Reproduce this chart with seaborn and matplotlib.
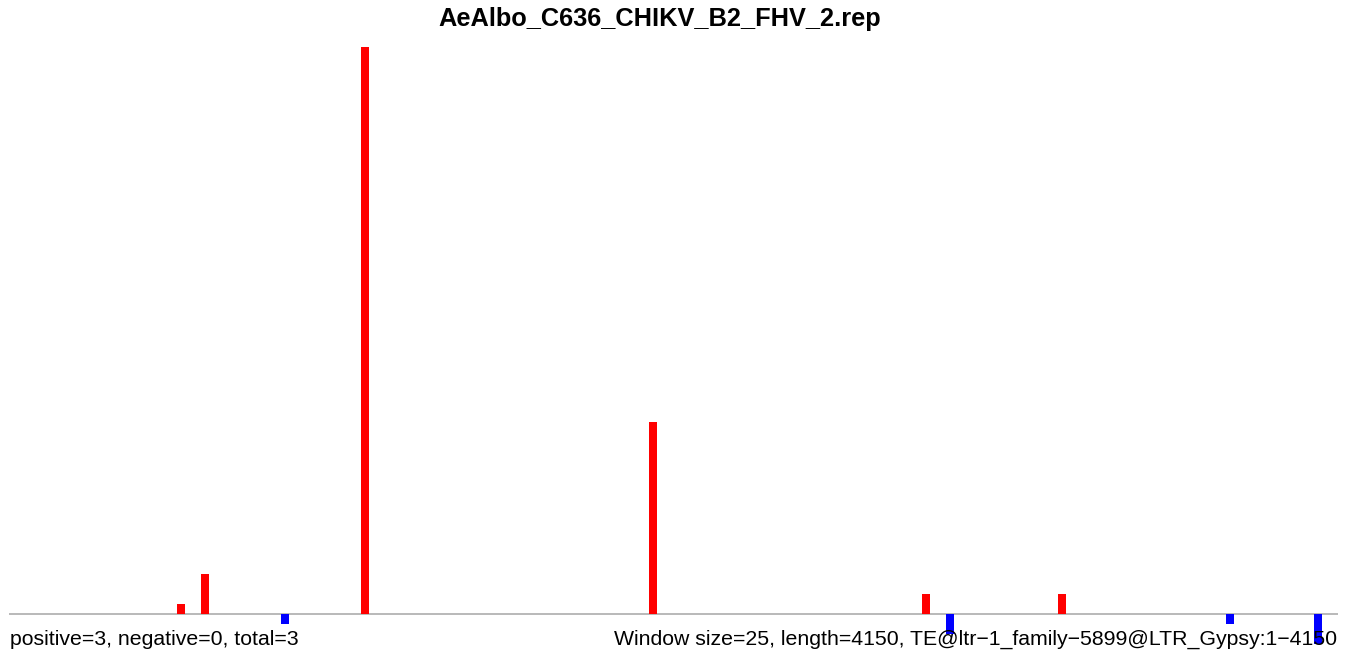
import numpy as np
import pandas as pd
import matplotlib
matplotlib.use("Agg")
import matplotlib.pyplot as plt
import seaborn as sns

# ---- data ----
title = "AeAlbo_C636_CHIKV_B2_FHV_2.rep"
window_size = 25
seq_length = 4150
pos_starts = [525, 600, 1100, 2000, 2850, 3275]
pos_values = [1, 4, 56, 19, 2, 2]
neg_starts = [850, 2925, 3800, 4075]
neg_values = [-1, -2, -1, -3]
left_label = "positive=3, negative=0, total=3"
right_label = "Window size=25, length=4150, TE@ltr\u22121_family\u22125899@LTR_Gypsy:1\u22124150"

sns.set_theme(style="white")
plt.rcParams["font.family"] = ["Liberation Sans", "DejaVu Sans"]

W, H = 1350, 656
fig = plt.figure(figsize=(W / 100, H / 100), dpi=100)
fig.patch.set_facecolor("white")

ax_left, ax_right = 9, 1338
base_px, top_px = 614, 47
unit = (base_px - top_px) / max(pos_values)
ax = fig.add_axes([ax_left / W, 0, (ax_right - ax_left) / W, (H - top_px) / H])

pos_df = pd.DataFrame({"x": np.array(pos_starts) + window_size / 2, "w": pos_values})
neg_df = pd.DataFrame({"x": np.array(neg_starts) + window_size / 2, "w": neg_values})

sns.histplot(data=pos_df, x="x", weights="w", binwidth=window_size,
             binrange=(0, seq_length), color="#FF0000",
             alpha=1, linewidth=0, edgecolor="none", ax=ax)
sns.histplot(data=neg_df, x="x", weights="w", binwidth=window_size,
             binrange=(0, seq_length), color="#0000FF",
             alpha=1, linewidth=0, edgecolor="none", ax=ax)

ax.axhline(0, color="#A6A6A6", lw=1.1, zorder=0.5)
ax.set_xlim(0, seq_length)
ax.set_ylim(-(H - base_px) / unit, max(pos_values))
ax.set_axis_off()

fig.text(660 / W, 1 - 26 / H, title, ha="center", va="baseline",
         fontsize=18.3, fontweight="bold", color="black")
fig.text(10 / W, 1 - 645 / H, left_label, ha="left", va="baseline",
         fontsize=15.3, color="black")
fig.text(1337 / W, 1 - 645 / H, right_label, ha="right", va="baseline",
         fontsize=15.3, color="black")

fig.savefig("out.png", dpi=100, facecolor="white")
